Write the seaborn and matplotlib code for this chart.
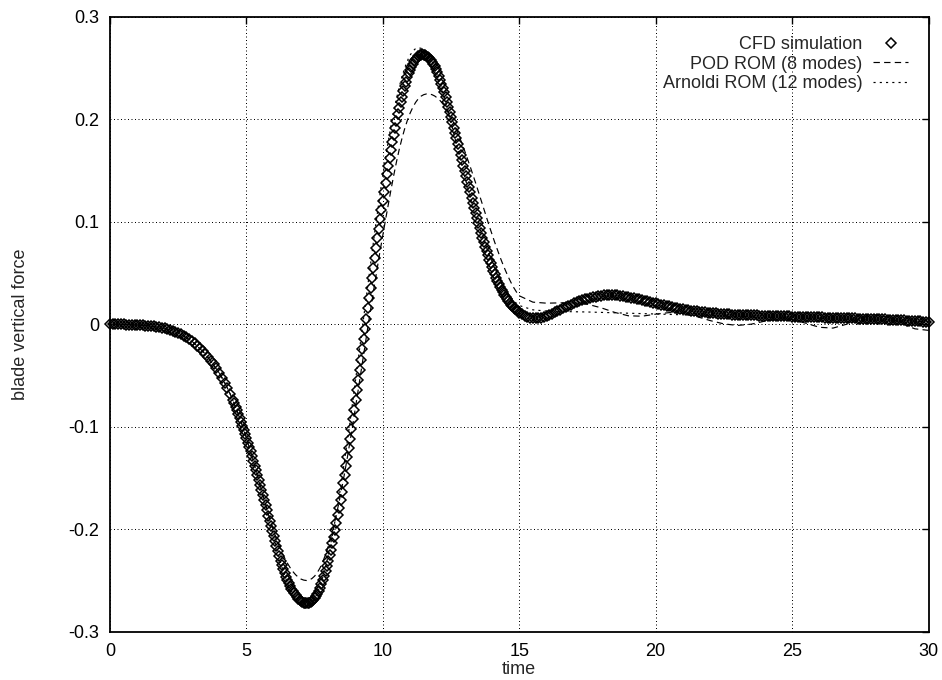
import numpy as np
import pandas as pd
import matplotlib
matplotlib.use("Agg")
import matplotlib.pyplot as plt
import seaborn as sns
from matplotlib.ticker import FixedLocator, FixedFormatter

# ---------------- data ----------------
x_ticks = [0, 5, 10, 15, 20, 25, 30]
x_tick_labels = ["0", "5", "10", "15", "20", "25", "30"]
y_ticks = [-0.3, -0.2, -0.1, 0.0, 0.1, 0.2, 0.3]
y_tick_labels = ["-0.3", "-0.2", "-0.1", "0", "0.1", "0.2", "0.3"]

series_labels = ["CFD simulation", "POD ROM (8 modes)", "Arnoldi ROM (12 modes)"]

# CFD samples: every 0.1 on 0..4.4, every 0.05 on 4.5..15, every 0.1 on 15.1..30
cfd_time = np.concatenate([np.linspace(0.0, 4.4, 45),
                           np.linspace(4.5, 15.0, 211),
                           np.linspace(15.1, 30.0, 150)])
cfd_early = [
    0.0000, -0.0000, -0.0001, -0.0001, -0.0002, -0.0002, -0.0003, -0.0004, -0.0005, -0.0006,
    -0.0008, -0.0009, -0.0011, -0.0013, -0.0015, -0.0018, -0.0021, -0.0025, -0.0029, -0.0034,
    -0.0040, -0.0047, -0.0055, -0.0064, -0.0074, -0.0085, -0.0098, -0.0112, -0.0128, -0.0146,
    -0.0165, -0.0186, -0.0209, -0.0234, -0.0261, -0.0290, -0.0321, -0.0354, -0.0391, -0.0431,
    -0.0474, -0.0520, -0.0569, -0.0621, -0.0678,
]
cfd_main = [
    -0.0740, -0.0772, -0.0806, -0.0840, -0.0876, -0.0912, -0.0950, -0.0989, -0.1028, -0.1069,
    -0.1111, -0.1154, -0.1197, -0.1241, -0.1286, -0.1332, -0.1378, -0.1425, -0.1473, -0.1521,
    -0.1570, -0.1619, -0.1668, -0.1717, -0.1767, -0.1816, -0.1866, -0.1915, -0.1964, -0.2016,
    -0.2067, -0.2117, -0.2166, -0.2214, -0.2260, -0.2305, -0.2348, -0.2389, -0.2428, -0.2463,
    -0.2496, -0.2526, -0.2555, -0.2580, -0.2604, -0.2625, -0.2645, -0.2662, -0.2677, -0.2689,
    -0.2700, -0.2708, -0.2714, -0.2718, -0.2720, -0.2720, -0.2718, -0.2713, -0.2703, -0.2690,
    -0.2674, -0.2653, -0.2629, -0.2601, -0.2570, -0.2535, -0.2497, -0.2455, -0.2410, -0.2362,
    -0.2310, -0.2255, -0.2197, -0.2136, -0.2072, -0.2006, -0.1937, -0.1864, -0.1789, -0.1713,
    -0.1633, -0.1552, -0.1468, -0.1383, -0.1295, -0.1206, -0.1115, -0.1022, -0.0929, -0.0833,
    -0.0737, -0.0640, -0.0542, -0.0444, -0.0345, -0.0245, -0.0145, -0.0045, 0.0055, 0.0155,
    0.0255, 0.0354, 0.0452, 0.0550, 0.0647, 0.0743, 0.0839, 0.0932, 0.1025, 0.1116,
    0.1205, 0.1293, 0.1378, 0.1462, 0.1543, 0.1623, 0.1699, 0.1774, 0.1847, 0.1916,
    0.1982, 0.2046, 0.2107, 0.2165, 0.2220, 0.2272, 0.2320, 0.2365, 0.2407, 0.2445,
    0.2480, 0.2511, 0.2539, 0.2563, 0.2584, 0.2600, 0.2613, 0.2623, 0.2628, 0.2630,
    0.2629, 0.2625, 0.2618, 0.2608, 0.2595, 0.2579, 0.2561, 0.2539, 0.2514, 0.2486,
    0.2455, 0.2421, 0.2385, 0.2346, 0.2305, 0.2261, 0.2216, 0.2169, 0.2120, 0.2070,
    0.2020, 0.1969, 0.1917, 0.1865, 0.1812, 0.1759, 0.1706, 0.1653, 0.1600, 0.1547,
    0.1494, 0.1441, 0.1389, 0.1337, 0.1285, 0.1233, 0.1182, 0.1132, 0.1082, 0.1033,
    0.0985, 0.0938, 0.0891, 0.0845, 0.0800, 0.0756, 0.0713, 0.0671, 0.0630, 0.0592,
    0.0555, 0.0519, 0.0485, 0.0452, 0.0420, 0.0390, 0.0362, 0.0335, 0.0310, 0.0287,
    0.0265, 0.0244, 0.0225, 0.0207, 0.0190, 0.0174, 0.0160, 0.0147, 0.0135, 0.0124,
    0.0114,
]
cfd_tail = [
    0.0097, 0.0083, 0.0072, 0.0064, 0.0059, 0.0057, 0.0059, 0.0064, 0.0071,
    0.0080, 0.0091, 0.0103, 0.0116, 0.0129, 0.0142, 0.0155, 0.0168, 0.0180, 0.0192,
    0.0203, 0.0213, 0.0223, 0.0232, 0.0241, 0.0249, 0.0256, 0.0263, 0.0269, 0.0274,
    0.0278, 0.0281, 0.0283, 0.0284, 0.0284, 0.0283, 0.0281, 0.0278, 0.0274, 0.0270,
    0.0265, 0.0260, 0.0254, 0.0248, 0.0242, 0.0236, 0.0230, 0.0224, 0.0217, 0.0211,
    0.0204, 0.0198, 0.0191, 0.0185, 0.0179, 0.0173, 0.0167, 0.0161, 0.0156, 0.0151,
    0.0146, 0.0141, 0.0137, 0.0133, 0.0129, 0.0125, 0.0122, 0.0119, 0.0116, 0.0113,
    0.0110, 0.0108, 0.0105, 0.0103, 0.0101, 0.0099, 0.0097, 0.0095, 0.0093, 0.0092,
    0.0090, 0.0089, 0.0088, 0.0088, 0.0087, 0.0086, 0.0086, 0.0085, 0.0084, 0.0084,
    0.0083, 0.0082, 0.0081, 0.0081, 0.0080, 0.0079, 0.0078, 0.0077, 0.0077, 0.0076,
    0.0075, 0.0074, 0.0073, 0.0073, 0.0072, 0.0071, 0.0070, 0.0069, 0.0069, 0.0068,
    0.0067, 0.0066, 0.0065, 0.0065, 0.0064, 0.0063, 0.0062, 0.0061, 0.0061, 0.0060,
    0.0059, 0.0058, 0.0057, 0.0056, 0.0055, 0.0055, 0.0054, 0.0053, 0.0052, 0.0051,
    0.0050, 0.0049, 0.0048, 0.0047, 0.0046, 0.0045, 0.0044, 0.0043, 0.0042, 0.0041,
    0.0039, 0.0038, 0.0036, 0.0034, 0.0033, 0.0031, 0.0029, 0.0028, 0.0026, 0.0024,
    0.0022,
]
cfd_force = cfd_early + cfd_main + cfd_tail

# ROM time grid: 0..4 every 0.5, 4.1..15 every 0.1, 15.5..30 every 0.5
rom_time = np.concatenate([np.linspace(0.0, 4.0, 9),
                           np.linspace(4.1, 15.0, 110),
                           np.linspace(15.5, 30.0, 30)])

early_force = [0.0000, -0.0002, -0.0008, -0.0018, -0.0040, -0.0085, -0.0165, -0.0290, -0.0474]

pod_mid = [
    -0.0520, -0.0569, -0.0621, -0.0678, -0.0740, -0.0806, -0.0876, -0.0950, -0.1028,
    -0.1111, -0.1197, -0.1286, -0.1378, -0.1473, -0.1570, -0.1665, -0.1760, -0.1850, -0.1937,
    -0.2018, -0.2093, -0.2161, -0.2223, -0.2279, -0.2329, -0.2373, -0.2411, -0.2442, -0.2467,
    -0.2485, -0.2495, -0.2499, -0.2494, -0.2480, -0.2456, -0.2421, -0.2375, -0.2316, -0.2245,
    -0.2165, -0.2072, -0.1968, -0.1853, -0.1728, -0.1593, -0.1450, -0.1299, -0.1141, -0.0977,
    -0.0808, -0.0636, -0.0462, -0.0288, -0.0115, 0.0056, 0.0225, 0.0392, 0.0556, 0.0716,
    0.0870, 0.1020, 0.1168, 0.1313, 0.1452, 0.1583, 0.1703, 0.1810, 0.1905, 0.1988,
    0.2058, 0.2115, 0.2162, 0.2198, 0.2223, 0.2238, 0.2245, 0.2245, 0.2238, 0.2225,
    0.2205, 0.2180, 0.2148, 0.2110, 0.2066, 0.2016, 0.1960, 0.1898, 0.1832, 0.1762,
    0.1690, 0.1615, 0.1538, 0.1459, 0.1378, 0.1295, 0.1211, 0.1126, 0.1041, 0.0958,
    0.0877, 0.0799, 0.0724, 0.0652, 0.0584, 0.0520, 0.0460, 0.0405, 0.0356, 0.0313,
    0.0277,
]
pod_tail = [
    0.0215, 0.0205, 0.0208, 0.0208, 0.0195, 0.0160, 0.0115, 0.0082, 0.0078, 0.0098,
    0.0113, 0.0105, 0.0075, 0.0035, 0.0003, -0.0012, 0.0000, 0.0030, 0.0052, 0.0045,
    0.0010, -0.0030, -0.0038, 0.0000, 0.0060, 0.0090, 0.0070, 0.0010, -0.0045, -0.0060,
]

arnoldi_mid = [
    -0.0520, -0.0569, -0.0621, -0.0678, -0.0740, -0.0806, -0.0876, -0.0950, -0.1028,
    -0.1111, -0.1197, -0.1286, -0.1378, -0.1473, -0.1570, -0.1668, -0.1767, -0.1866, -0.1964,
    -0.2075, -0.2178, -0.2275, -0.2366, -0.2448, -0.2520, -0.2582, -0.2634, -0.2677, -0.2710,
    -0.2732, -0.2745, -0.2748, -0.2740, -0.2716, -0.2676, -0.2621, -0.2551, -0.2466, -0.2366,
    -0.2253, -0.2126, -0.1988, -0.1837, -0.1677, -0.1506, -0.1327, -0.1140, -0.0947, -0.0748,
    -0.0545, -0.0339, -0.0131, 0.0077, 0.0285, 0.0491, 0.0694, 0.0893, 0.1086, 0.1273,
    0.1452, 0.1623, 0.1784, 0.1934, 0.2073, 0.2199, 0.2313, 0.2412, 0.2498, 0.2568,
    0.2623, 0.2663, 0.2687, 0.2695, 0.2690, 0.2675, 0.2648, 0.2610, 0.2560, 0.2500,
    0.2430, 0.2350, 0.2262, 0.2168, 0.2068, 0.1965, 0.1860, 0.1754, 0.1648, 0.1543,
    0.1440, 0.1340, 0.1243, 0.1150, 0.1061, 0.0977, 0.0897, 0.0820, 0.0747, 0.0677,
    0.0610, 0.0547, 0.0488, 0.0433, 0.0383, 0.0337, 0.0296, 0.0260, 0.0229, 0.0203,
    0.0182,
]
arnoldi_tail = [
    0.0140, 0.0128, 0.0124, 0.0122, 0.0119, 0.0115, 0.0111, 0.0107, 0.0103, 0.0099,
    0.0095, 0.0091, 0.0087, 0.0083, 0.0080, 0.0076, 0.0072, 0.0069, 0.0065, 0.0062,
    0.0058, 0.0055, 0.0051, 0.0048, 0.0044, 0.0041, 0.0037, 0.0033, 0.0030, 0.0026,
]

pod_force = early_force + pod_mid + pod_tail
arnoldi_force = early_force + arnoldi_mid + arnoldi_tail

assert len(cfd_force) == len(cfd_time), (len(cfd_force), len(cfd_time))
assert len(pod_force) == len(rom_time), (len(pod_force), len(rom_time))
assert len(arnoldi_force) == len(rom_time), (len(arnoldi_force), len(rom_time))

cfd_df = pd.DataFrame({"time": cfd_time, "force": cfd_force})
pod_df = pd.DataFrame({"time": rom_time, "force": pod_force})
arn_df = pd.DataFrame({"time": rom_time, "force": arnoldi_force})

# ---------------- style ----------------
sns.set_style("white")
plt.rcParams['font.family'] = ['Liberation Sans', 'DejaVu Sans']
plt.rcParams['axes.unicode_minus'] = False

W, H = 942, 680
fig = plt.figure(figsize=(W / 100, H / 100), dpi=100)
ax_left, ax_right, ax_top, ax_bottom = 110, 928.5, 16.5, 631.9
ax = fig.add_axes([ax_left / W, (H - ax_bottom) / H,
                   (ax_right - ax_left) / W, (ax_bottom - ax_top) / H])

sns.lineplot(data=cfd_df, x="time", y="force", ax=ax, estimator=None, sort=False,
             linestyle="", marker="D", markersize=4.9, markerfacecolor="none",
             markeredgecolor="black", markeredgewidth=1.1, color="black",
             clip_on=False, label=series_labels[0])
sns.lineplot(data=pod_df, x="time", y="force", ax=ax, estimator=None, sort=False,
             color="black", linewidth=0.85, linestyle=(0, (5.4, 3.6)),
             label=series_labels[1])
sns.lineplot(data=arn_df, x="time", y="force", ax=ax, estimator=None, sort=False,
             color="black", linewidth=0.85, linestyle=(0, (1.8, 3.5)),
             label=series_labels[2])

ax.set_xlim(0, 30)
ax.set_ylim(-0.3, 0.3)
ax.xaxis.set_major_locator(FixedLocator(x_ticks))
ax.xaxis.set_major_formatter(FixedFormatter(x_tick_labels))
ax.yaxis.set_major_locator(FixedLocator(y_ticks))
ax.yaxis.set_major_formatter(FixedFormatter(y_tick_labels))

ax.grid(True, color="black", linestyle=(0, (1, 2.5)), linewidth=0.72)
ax.set_axisbelow(True)

for sp in ax.spines.values():
    sp.set_visible(True)
    sp.set_color("black")
    sp.set_linewidth(1.3)

ax.tick_params(axis="both", which="major", direction="in", length=5, width=1.0,
               top=True, right=True, labelsize=13, pad=8, colors="black")

ax.set_xlabel("time", fontsize=13)
ax.set_ylabel("blade vertical force", fontsize=13)
ax.xaxis.set_label_coords(0.5, (ax_bottom - 661) / (ax_bottom - ax_top))
ax.yaxis.set_label_coords((29 - ax_left) / (ax_right - ax_left), 0.5)

leg = ax.legend(loc="upper right", bbox_to_anchor=(0.975, 0.968), markerfirst=False,
                frameon=False, handlelength=1.94, handletextpad=0.6,
                labelspacing=0.14, borderpad=0, borderaxespad=0, fontsize=13)

fig.savefig("out.png", dpi=100)
